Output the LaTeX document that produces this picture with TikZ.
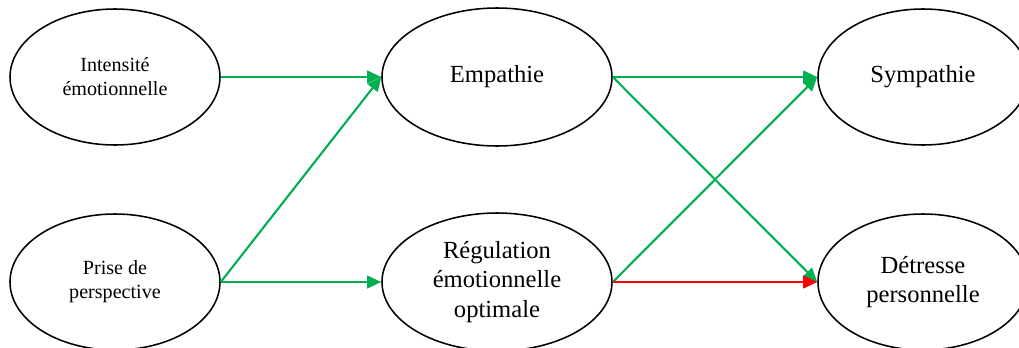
\documentclass[tikz,border=0pt]{standalone}
\usepackage{fontspec}
\setmainfont{Liberation Serif}
\usetikzlibrary{shapes.geometric,arrows.meta}
\definecolor{vert}{RGB}{0,176,80}
\definecolor{rouge}{RGB}{255,0,0}

\begin{document}
\begin{tikzpicture}[
  bulle/.style={draw, ellipse, line width=1.1pt, minimum width=5.25cm, minimum height=3.4cm, align=center, inner sep=0pt},
  large/.style={minimum width=5.75cm, minimum height=3.45cm},
  petit/.style={font=\fontsize{14.3}{17}\selectfont},
  grand/.style={font=\fontsize{17.5}{21}\selectfont},
  lien/.style={line width=1.5pt, draw=vert, -{Triangle[length=10pt,width=9pt]}, fill=vert},
]
\clip (0,0) rectangle (25.475,8.675);
% colonne de gauche
\node [bulle, petit] (intens) at (2.875,6.75) {Intensit\'e\\\'emotionnelle};
\node [bulle, petit] (prise) at (2.875,1.625) {Prise de\\perspective};
% colonne du milieu
\node [bulle, large, grand] (empath) at (12.425,6.75) {Empathie};
\node [bulle, large, grand] (regul) at (12.425,1.625) {R\'egulation\\\'emotionnelle\\optimale};
% colonne de droite
\node [bulle, grand] (sympa) at (23.075,6.75) {Sympathie};
\node [bulle, grand] (detresse) at (23.075,1.625) {D\'etresse\\personnelle};
% fleches
\draw [lien] (intens.east)--(empath.west);
\draw [lien] (prise.east)--(empath.west);
\draw [lien] (prise.east)--(regul.west);
\draw [lien] (empath.east)--(sympa.west);
\draw [lien] (empath.east)--(detresse.west);
\draw [lien] (regul.east)--(sympa.west);
\draw [lien, draw=rouge, fill=rouge] (regul.east)--(detresse.west);
\end{tikzpicture}
\end{document}
